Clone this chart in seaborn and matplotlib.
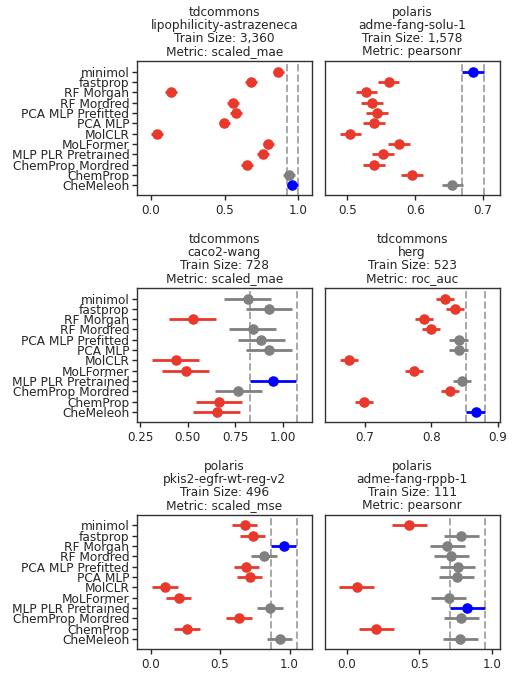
import numpy as np
import pandas as pd
import matplotlib
matplotlib.use("Agg")
import matplotlib.pyplot as plt
import seaborn as sns

models = ["minimol", "fastprop", "RF Morgan", "RF Mordred", "PCA MLP Prefitted",
          "PCA MLP", "MolCLR", "MoLFormer", "MLP PLR Pretrained",
          "ChemProp Mordred", "ChemProp", "CheMeleon"]

sources = ["tdcommons", "polaris", "tdcommons", "tdcommons", "polaris", "polaris"]
datasets = ["lipophilicity-astrazeneca", "adme-fang-solu-1", "caco2-wang", "herg",
            "pkis2-egfr-wt-reg-v2", "adme-fang-rppb-1"]
train_sizes = ["3,360", "1,578", "728", "523", "496", "111"]
metrics = ["scaled_mae", "pearsonr", "scaled_mae", "roc_auc", "scaled_mse", "pearsonr"]

score_lipo = [0.866, 0.682, 0.136, 0.558, 0.576, 0.499, 0.043, 0.798, 0.760, 0.651, 0.936, 0.960]
score_solu = [0.6855, 0.5606, 0.528, 0.536, 0.5437, 0.5388, 0.5044, 0.576, 0.552, 0.539, 0.5954, 0.655]
score_caco = [0.815, 0.928, 0.526, 0.842, 0.888, 0.928, 0.437, 0.489, 0.950, 0.767, 0.664, 0.652]
score_herg = [0.820, 0.8355, 0.789, 0.800, 0.841, 0.841, 0.675, 0.774, 0.8466, 0.828, 0.698, 0.867]
score_pkis = [0.677, 0.734, 0.957, 0.816, 0.689, 0.713, 0.103, 0.201, 0.859, 0.636, 0.263, 0.928]
score_rppb = [0.429, 0.787, 0.693, 0.720, 0.764, 0.757, 0.069, 0.700, 0.828, 0.787, 0.202, 0.782]

ci_lipo = [0.04] * 11 + [0.037]
ci_solu = [0.016] * 12
ci_caco = [0.122] * 12
ci_herg = [0.0136] * 11 + [0.0145]
ci_pkis = [0.092] * 12
ci_rppb = [0.12] * 12

status_lipo = ["worse"] * 10 + ["same", "best"]
status_solu = ["best"] + ["worse"] * 10 + ["same"]
status_caco = ["same", "same", "worse", "same", "same", "same", "worse", "worse",
               "best", "same", "worse", "worse"]
status_herg = ["worse", "worse", "worse", "worse", "same", "same", "worse", "worse",
               "same", "worse", "worse", "best"]
status_pkis = ["worse", "worse", "best", "same", "worse", "worse", "worse", "worse",
               "same", "worse", "worse", "same"]
status_rppb = ["worse", "same", "same", "same", "same", "same", "worse", "same",
               "best", "same", "worse", "same"]

best_ci = [(0.925, 0.998), (0.669, 0.702), (0.826, 1.073),
           (0.852, 0.881), (0.866, 1.051), (0.707, 0.950)]

xlims = [(-0.095, 1.093), (0.4665, 0.7245), (0.234, 1.153),
         (0.639, 0.903), (-0.098, 1.16), (-0.151, 1.051)]
xticks = [[0.0, 0.5, 1.0], [0.5, 0.6, 0.7], [0.25, 0.50, 0.75, 1.00],
          [0.7, 0.8, 0.9], [0.0, 0.5, 1.0], [0.0, 0.5, 1.0]]
xticklabels = [["0.0", "0.5", "1.0"], ["0.5", "0.6", "0.7"],
               ["0.25", "0.50", "0.75", "1.00"], ["0.7", "0.8", "0.9"],
               ["0.0", "0.5", "1.0"], ["0.0", "0.5", "1.0"]]

scores = [score_lipo, score_solu, score_caco, score_herg, score_pkis, score_rppb]
cis = [ci_lipo, ci_solu, ci_caco, ci_herg, ci_pkis, ci_rppb]
statuses = [status_lipo, status_solu, status_caco, status_herg, status_pkis, status_rppb]

palette = {"worse": "#e8392b", "same": "#808080", "best": "#0000ff"}

sns.set_style("ticks")
plt.rcParams["font.family"] = ["DejaVu Sans"]
plt.rcParams["font.size"] = 8.6
plt.rcParams["axes.edgecolor"] = "#333333"
plt.rcParams["axes.linewidth"] = 1.0

fig, axes = plt.subplots(3, 2, figsize=(5.22, 6.80), dpi=100)
fig.subplots_adjust(left=0.2625, right=0.957, bottom=0.0456, top=0.9103,
                    wspace=0.074, hspace=0.69)

for i, ax in enumerate(axes.flat):
    df = pd.DataFrame({"model": models, "score": scores[i],
                       "ci": cis[i], "status": statuses[i]})
    df["lo"] = df["score"] - df["ci"]
    df["hi"] = df["score"] + df["ci"]
    lo, hi = best_ci[i]
    ax.axvline(lo, color="#a8a8a8", ls="--", lw=1.4, zorder=0)
    ax.axvline(hi, color="#a8a8a8", ls="--", lw=1.4, zorder=0)
    ypos = np.arange(len(models))
    ax.hlines(ypos, df["lo"], df["hi"],
              colors=[palette[s] for s in df["status"]], lw=2.0, zorder=2)
    sns.stripplot(data=df, x="score", y="model", hue="status", palette=palette,
                  order=models, jitter=False, size=7.6, linewidth=0,
                  legend=False, ax=ax, zorder=3)
    ax.set_ylim(11.97, -1.03)
    ax.set_xlim(*xlims[i])
    ax.set_xticks(xticks[i])
    ax.set_xticklabels(xticklabels[i])
    ax.set_xlabel("")
    ax.set_ylabel("")
    ax.tick_params(axis="x", labelsize=8.6, length=3.5, width=1.0, pad=3)
    ax.tick_params(axis="y", labelsize=8.7, length=3.5, width=1.0, pad=2)
    if i % 2 == 1:
        ax.tick_params(axis="y", left=False, labelleft=False)
    ax.set_title(f"{sources[i]}\n{datasets[i]}\nTrain Size: {train_sizes[i]}\nMetric: {metrics[i]}",
                 fontsize=8.75, linespacing=1.0, pad=4)
    for sp in ax.spines.values():
        sp.set_visible(True)

fig.savefig("out.png", dpi=100)
